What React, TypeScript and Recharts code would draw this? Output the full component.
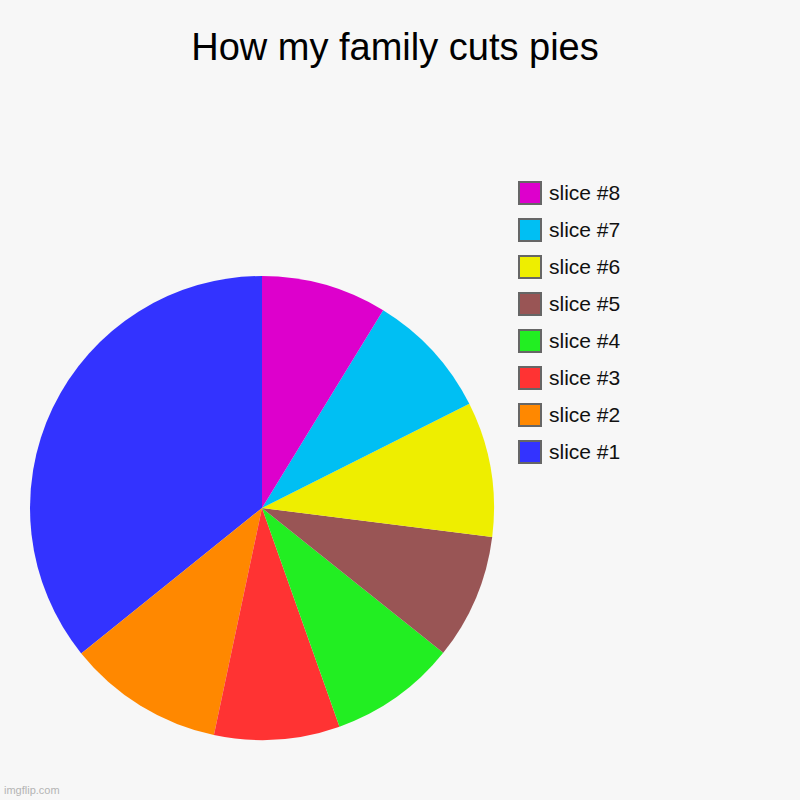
import React from "react";
import { PieChart, Pie, Cell, Legend } from "recharts";

const sliceNames = ["slice #1", "slice #2", "slice #3", "slice #4", "slice #5", "slice #6", "slice #7", "slice #8"];
const sliceValues = [35.8, 10.9, 8.75, 8.85, 8.75, 9.4, 8.85, 8.75];
const sliceColors = ["#3333ff", "#ff8800", "#ff3333", "#22ee22", "#995555", "#eeee00", "#00bff3", "#dd00cc"];
const titleText = "How my family cuts pies";
const watermark = "imgflip.com";

const data = sliceNames.map((name, i) => ({ name, value: sliceValues[i] }));

const FONT = "'Liberation Sans', Arial, Helvetica, sans-serif";

const renderLegend = (props: any) => {
  const items = [...(props.payload || [])].reverse();
  return (
    <div style={{ fontFamily: FONT }}>
      {items.map((entry: any, i: number) => (
        <div key={i} style={{ display: "flex", alignItems: "center", height: 24, marginBottom: 13 }}>
          <div
            style={{
              width: 24,
              height: 24,
              boxSizing: "border-box",
              border: "2px solid #666666",
              background: entry.color,
            }}
          />
          <span style={{ marginLeft: 7, fontSize: 21, lineHeight: "24px", color: "#111" }}>{entry.value}</span>
        </div>
      ))}
    </div>
  );
};

export default function App() {
  return (
    <div style={{ position: "absolute", left: 0, top: 0, width: 800, height: 800, background: "#f7f7f7", overflow: "hidden" }}>
      <style>{`body{margin:0;}`}</style>
      <div
        style={{
          position: "absolute",
          left: 0,
          width: 790,
          top: 25,
          textAlign: "center",
          fontFamily: FONT,
          fontSize: 38,
          color: "#000",
          lineHeight: "44px",
        }}
      >
        {titleText}
      </div>
      <PieChart
        width={800}
        height={800}
        margin={{ top: 0, right: 0, bottom: 0, left: 0 }}
        style={{ position: "absolute", left: 0, top: 0 }}
      >
        <Pie
          data={data}
          dataKey="value"
          nameKey="name"
          cx={262}
          cy={508}
          outerRadius={232}
          startAngle={90}
          endAngle={450}
          stroke="none"
          isAnimationActive={false}
        >
          {data.map((d, i) => (
            <Cell key={d.name} fill={sliceColors[i]} />
          ))}
        </Pie>
        <Legend
          content={renderLegend}
          wrapperStyle={{ position: "absolute", top: 181, left: 518, width: 200, bottom: "auto", right: "auto" }}
        />
      </PieChart>
      <div
        style={{
          position: "absolute",
          left: 4,
          top: 784,
          fontFamily: FONT,
          fontSize: 11,
          color: "#b4b4b4",
        }}
      >
        {watermark}
      </div>
    </div>
  );
}
